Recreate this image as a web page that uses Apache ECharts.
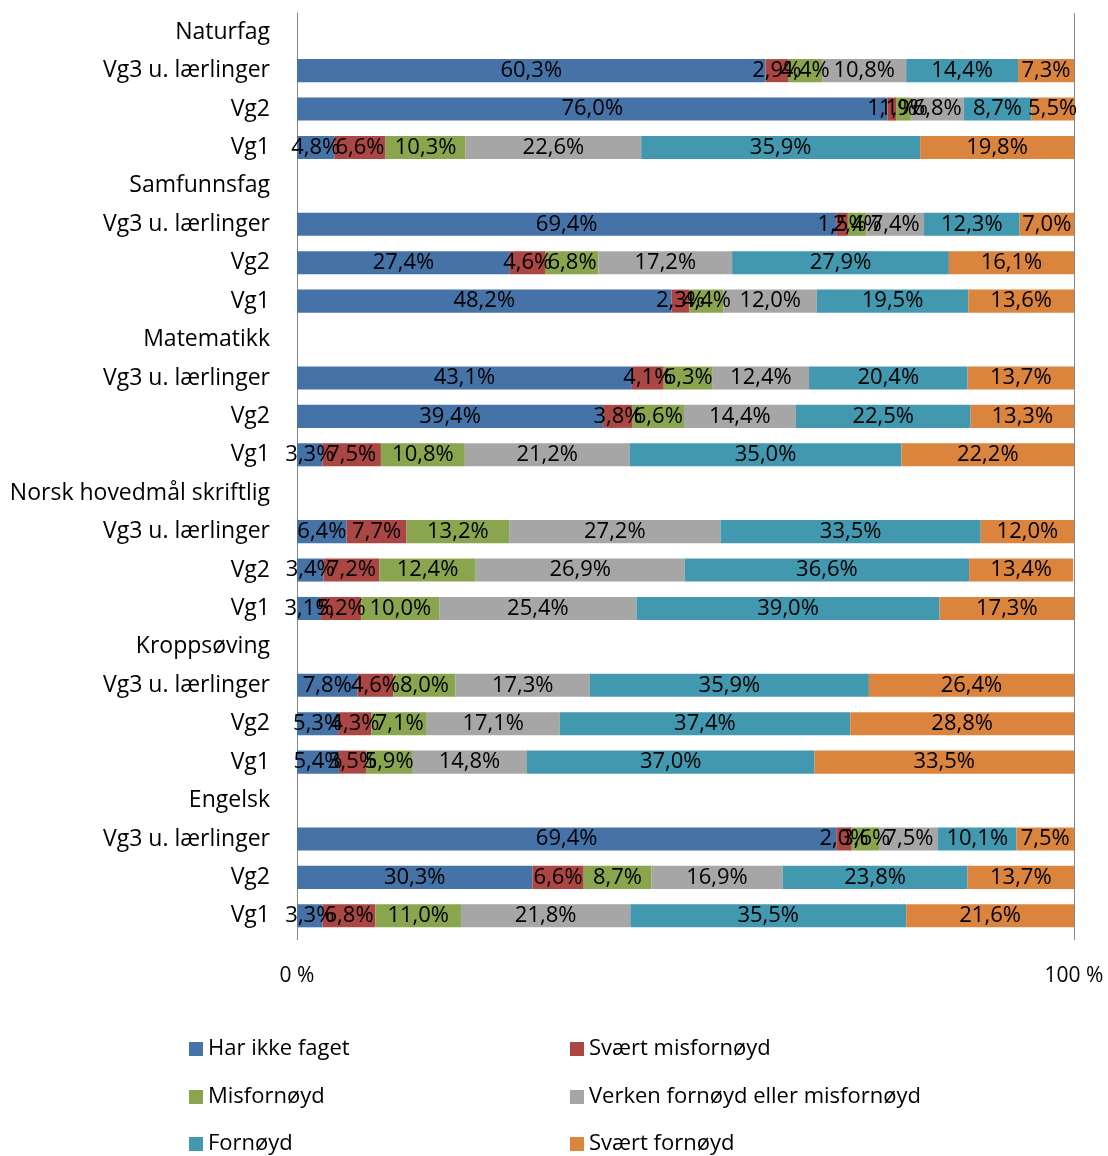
<!DOCTYPE html>
<html>
<head>
<meta charset="utf-8">
<script src="https://cdn.jsdelivr.net/npm/echarts@6/dist/echarts.min.js"></script>
<style>
  html, body { margin: 0; padding: 0; background: #ffffff; }
  #chart { width: 1108px; height: 1156px; }
</style>
</head>
<body>
<div id="chart"></div>
<script>
const categories = [
  'Naturfag', 'Vg3 u. lærlinger', 'Vg2', 'Vg1',
  'Samfunnsfag', 'Vg3 u. lærlinger', 'Vg2', 'Vg1',
  'Matematikk', 'Vg3 u. lærlinger', 'Vg2', 'Vg1',
  'Norsk hovedmål skriftlig', 'Vg3 u. lærlinger', 'Vg2', 'Vg1',
  'Kroppsøving', 'Vg3 u. lærlinger', 'Vg2', 'Vg1',
  'Engelsk', 'Vg3 u. lærlinger', 'Vg2', 'Vg1'
]

// header rows (subject names) carry no bars
const harIkkeFaget = [null, 60.3, 76.0, 4.8, null, 69.4, 27.4, 48.2, null, 43.1, 39.4, 3.3, null, 6.4, 3.4, 3.1, null, 7.8, 5.3, 5.4, null, 69.4, 30.3, 3.3]
const svaertMisfornoyd = [null, 2.9, 1.1, 6.6, null, 1.5, 4.6, 2.3, null, 4.1, 3.8, 7.5, null, 7.7, 7.2, 5.2, null, 4.6, 4.3, 3.5, null, 2.0, 6.6, 6.8]
const misfornoyd = [null, 4.4, 1.9, 10.3, null, 2.4, 6.8, 4.4, null, 6.3, 6.6, 10.8, null, 13.2, 12.4, 10.0, null, 8.0, 7.1, 5.9, null, 3.6, 8.7, 11.0]
const verken = [null, 10.8, 6.8, 22.6, null, 7.4, 17.2, 12.0, null, 12.4, 14.4, 21.2, null, 27.2, 26.9, 25.4, null, 17.3, 17.1, 14.8, null, 7.5, 16.9, 21.8]
const fornoyd = [null, 14.4, 8.7, 35.9, null, 12.3, 27.9, 19.5, null, 20.4, 22.5, 35.0, null, 33.5, 36.6, 39.0, null, 35.9, 37.4, 37.0, null, 10.1, 23.8, 35.5]
const svaertFornoyd = [null, 7.3, 5.5, 19.8, null, 7.0, 16.1, 13.6, null, 13.7, 13.3, 22.2, null, 12.0, 13.4, 17.3, null, 26.4, 28.8, 33.5, null, 7.5, 13.7, 21.6]

const seriesNames = ['Har ikke faget', 'Svært misfornøyd', 'Misfornøyd', 'Verken fornøyd eller misfornøyd', 'Fornøyd', 'Svært fornøyd']
const seriesData = [harIkkeFaget, svaertMisfornoyd, misfornoyd, verken, fornoyd, svaertFornoyd]
const colors = ['#4572A7', '#AA4643', '#89A54E', '#A6A6A6', '#4198AF', '#DB843D']

const fontFamily = '"Open Sans", Lato, sans-serif'

const chart = echarts.init(document.getElementById('chart'))

const series = seriesNames.map((name, i) => ({
  name: name,
  type: 'bar',
  stack: 'total',
  barWidth: '60%',
  data: seriesData[i],
  itemStyle: { color: colors[i] },
  label: {
    show: true,
    position: 'inside',
    color: '#000000',
    fontSize: 22,
    fontFamily: fontFamily,
    formatter: p => p.value == null ? '' : p.value.toFixed(1).replace('.', ',') + '%'
  }
}))

// legend laid out as two columns, three rows
const legendLeft = [184, 565]
const legendTop = [1033, 1081, 1128]
const legends = seriesNames.map((name, i) => ({
  left: legendLeft[i % 2],
  top: legendTop[Math.floor(i / 2)],
  itemWidth: 14,
  itemHeight: 14,
  itemGap: 6,
  icon: 'rect',
  textStyle: { fontSize: 22, color: '#000000', fontFamily: fontFamily },
  data: [name]
}))

chart.setOption({
  animation: false,
  color: colors,
  grid: { left: 297, right: 34, top: 13, bottom: 221 },
  legend: legends,
  xAxis: {
    type: 'value',
    min: 0,
    max: 100,
    interval: 100,
    axisLine: { show: false },
    axisTick: { show: true, length: 5, lineStyle: { color: '#868686' } },
    splitLine: { show: true, lineStyle: { color: '#868686', width: 1 } },
    axisLabel: {
      margin: 31,
      fontSize: 21,
      color: '#000000',
      fontFamily: fontFamily,
      formatter: v => v + ' %'
    }
  },
  yAxis: {
    type: 'category',
    inverse: true,
    data: categories,
    axisLine: { show: true, lineStyle: { color: '#868686' } },
    axisTick: { show: false },
    axisLabel: {
      margin: 27,
      fontSize: 23,
      color: '#000000',
      fontFamily: fontFamily
    }
  },
  series: series
})
</script>
</body>
</html>
